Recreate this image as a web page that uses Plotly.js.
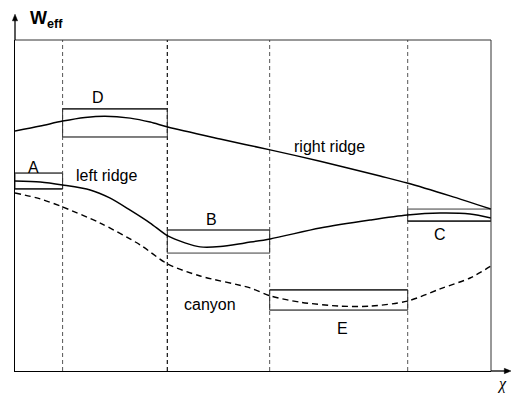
<!DOCTYPE html>
<html>
<head>
<meta charset="utf-8">
<script src="https://cdn.plot.ly/plotly-3.0.1.min.js"></script>
<style>html,body{margin:0;padding:0;background:#fff;}#chart{width:513px;height:394px;}</style>
</head>
<body>
<div id="chart"></div>
<script>
// ---- data (chi, W_eff in arbitrary units) ----
var regionBounds = [0, 1.0, 3.2, 5.35, 8.25, 10];

var rightRidgeChi = [0, 0.53, 1.0, 1.47, 1.89, 2.42, 2.84, 3.21, 4.31, 5.36, 6.41, 7.67, 8.24, 9.14, 10];
var rightRidgeW   = [7.25, 7.40, 7.55, 7.66, 7.70, 7.64, 7.52, 7.37, 7.01, 6.68, 6.34, 5.89, 5.68, 5.29, 4.89];

var leftRidgeChi = [0, 0.53, 1.0, 1.58, 1.99, 2.42, 2.84, 3.21, 3.57, 3.89, 4.31, 4.83, 5.36, 6.41, 7.46, 8.24, 8.93, 9.56, 10];
var leftRidgeW   = [5.74, 5.71, 5.62, 5.47, 5.23, 4.86, 4.47, 4.08, 3.87, 3.75, 3.76, 3.87, 3.99, 4.32, 4.56, 4.71, 4.77, 4.74, 4.62];

var canyonChi = [0, 0.53, 1.01, 1.79, 2.63, 3.21, 3.89, 4.94, 5.36, 5.99, 6.83, 7.46, 8.24, 8.93, 9.56, 10];
var canyonW   = [5.38, 5.20, 4.95, 4.47, 3.81, 3.23, 2.87, 2.51, 2.27, 2.08, 1.96, 1.96, 2.11, 2.48, 2.81, 3.17];

var boxNames = ["A", "D", "B", "E", "C"];
var boxChiLo = [0, 1.0, 3.2, 5.35, 8.25];
var boxChiHi = [1.0, 3.2, 5.35, 8.25, 10];
var boxWLo   = [5.50, 7.07, 3.56, 1.84, 4.53];
var boxWHi   = [5.98, 7.92, 4.26, 2.45, 4.89];

var labelTexts = ["A", "left ridge", "D", "right ridge", "B", "C", "canyon", "E"];
var labelChi   = [0.38, 1.93, 1.74, 6.60, 4.12, 8.93, 4.10, 6.89];
var labelW     = [6.16, 5.92, 8.25, 6.77, 4.59, 4.11, 2.02, 1.27];

// ---- styles (kept separate from data) ----
var boxTopColor    = ["#555", "#222", "#444", "#222", "#999"];
var boxBottomColor = ["#111", "#666", "#999", "#666", "#111"];
var gridColor      = ["#555", "#111", "#555", "#555"];
var gridWidth      = [1, 1.2, 1, 1];

var traces = [
  {x: rightRidgeChi, y: rightRidgeW, mode: "lines", line: {color: "#000", width: 1.5, shape: "spline", smoothing: 0.8}, hoverinfo: "skip"},
  {x: leftRidgeChi, y: leftRidgeW, mode: "lines", line: {color: "#000", width: 1.5, shape: "spline", smoothing: 0.8}, hoverinfo: "skip"},
  {x: canyonChi, y: canyonW, mode: "lines", line: {color: "#000", width: 1.4, shape: "spline", smoothing: 0.8, dash: "6px,4px"}, hoverinfo: "skip"}
];

var shapes = [];
// interior dashed region boundaries
for (var i = 1; i < regionBounds.length - 1; i++) {
  shapes.push({type: "line", xref: "x", yref: "paper", x0: regionBounds[i], x1: regionBounds[i], y0: 0, y1: 1,
    line: {color: gridColor[i - 1], width: gridWidth[i - 1], dash: "4px,3px"}, layer: "below"});
}
// boxes
for (var b = 0; b < boxNames.length; b++) {
  shapes.push({type: "rect", xref: "x", yref: "y", x0: boxChiLo[b], x1: boxChiHi[b], y0: boxWLo[b], y1: boxWHi[b],
    line: {color: "#333", width: 1}, fillcolor: "rgba(0,0,0,0)", layer: "below"});
  shapes.push({type: "line", xref: "x", yref: "y", x0: boxChiLo[b], x1: boxChiHi[b], y0: boxWHi[b], y1: boxWHi[b],
    line: {color: boxTopColor[b], width: 1.2}, layer: "below"});
  shapes.push({type: "line", xref: "x", yref: "y", x0: boxChiLo[b], x1: boxChiHi[b], y0: boxWLo[b], y1: boxWLo[b],
    line: {color: boxBottomColor[b], width: 1.2}, layer: "below"});
}
// top and right frame lines
shapes.push({type: "line", xref: "paper", yref: "paper", x0: 0, x1: 1, y0: 1, y1: 1, line: {color: "#333", width: 1}});
shapes.push({type: "line", xref: "paper", yref: "paper", x0: 1, x1: 1, y0: 0, y1: 1, line: {color: "#333", width: 1}});
// axis arrows: extension lines + filled heads
shapes.push({type: "line", xref: "paper", yref: "paper", x0: 0, x1: 0, y0: 1, y1: 1.065, line: {color: "#000", width: 1.3}});
shapes.push({type: "path", xref: "paper", yref: "paper", path: "M -0.0055 1.058 L 0 1.078 L 0.0055 1.058 Z",
  fillcolor: "#000", line: {color: "#000", width: 0.5}});
shapes.push({type: "line", xref: "paper", yref: "paper", x0: 1, x1: 1.032, y0: 0, y1: 0, line: {color: "#000", width: 1.3}});
shapes.push({type: "path", xref: "paper", yref: "paper", path: "M 1.028 -0.008 L 1.042 0 L 1.028 0.008 Z",
  fillcolor: "#000", line: {color: "#000", width: 0.5}});

var annotations = [];
for (var k = 0; k < labelTexts.length; k++) {
  annotations.push({x: labelChi[k], y: labelW[k], xref: "x", yref: "y", text: labelTexts[k], showarrow: false,
    font: {family: "Liberation Sans, Arial, sans-serif", size: 16, color: "#000"}, xanchor: "center", yanchor: "middle"});
}
// axis titles
annotations.push({x: 0.027, y: 1.063, xref: "paper", yref: "paper", text: "<b>W<sub>eff</sub></b>", showarrow: false,
  xanchor: "left", yanchor: "middle", font: {family: "Liberation Sans, Arial, sans-serif", size: 18, color: "#000"}});
annotations.push({x: 1.024, y: -0.04, xref: "paper", yref: "paper", text: "<i>χ</i>", showarrow: false,
  xanchor: "center", yanchor: "middle", font: {family: "Liberation Serif, serif", size: 16, color: "#000"}});

var layout = {
  width: 513, height: 394, autosize: false,
  margin: {l: 15, r: 22, t: 40, b: 23, pad: 0},
  paper_bgcolor: "#fff", plot_bgcolor: "#fff",
  showlegend: false,
  xaxis: {range: [0, 10], showgrid: false, zeroline: false, showticklabels: false, ticks: "",
    showline: true, linecolor: "#000", linewidth: 1.3, fixedrange: true},
  yaxis: {range: [0, 10], showgrid: false, zeroline: false, showticklabels: false, ticks: "",
    showline: true, linecolor: "#000", linewidth: 1.3, fixedrange: true},
  shapes: shapes,
  annotations: annotations
};

Plotly.newPlot("chart", traces, layout, {staticPlot: true, displayModeBar: false});
</script>
</body>
</html>
